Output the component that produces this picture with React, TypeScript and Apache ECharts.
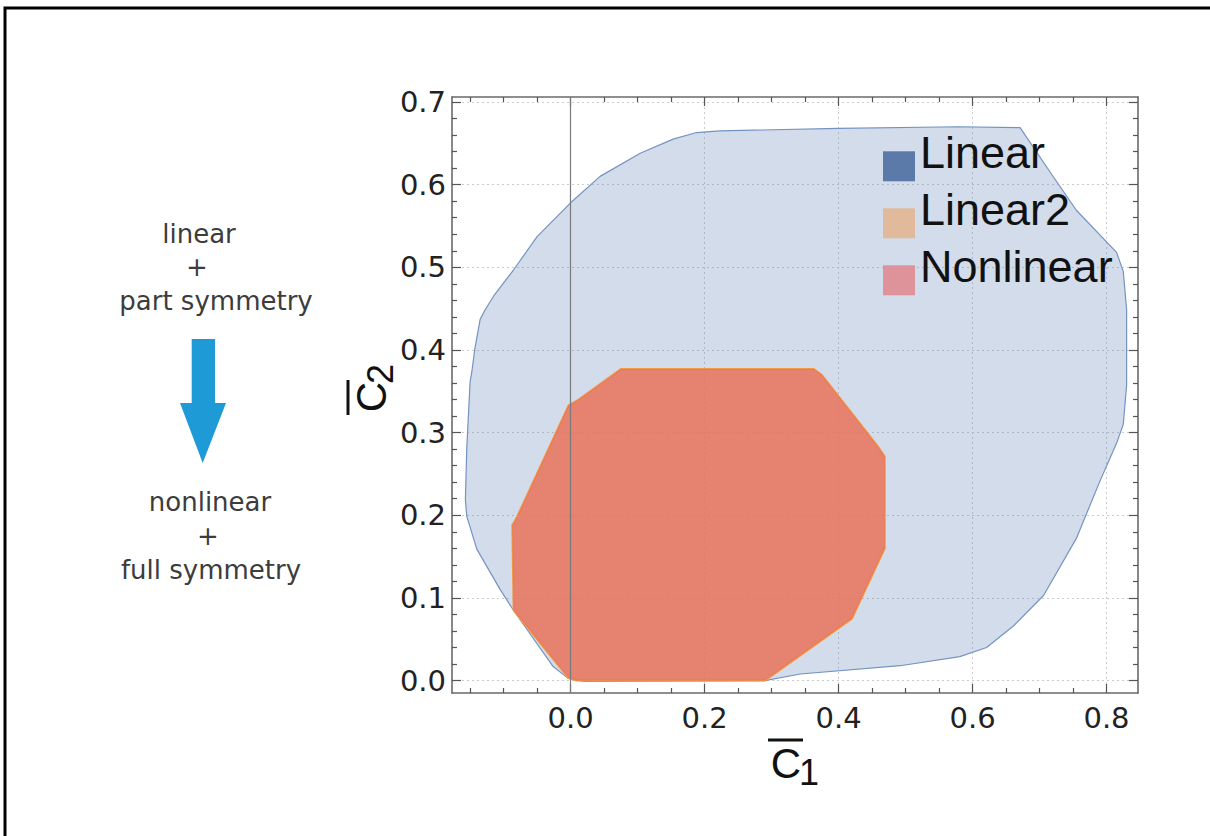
import React, { useEffect, useRef } from "react";
import * as echarts from "echarts";

// ---- data ----
const xMajorTicks = [0, 0.2, 0.4, 0.6, 0.8];
const xMinorTicks = [-0.15, -0.1, -0.05, 0.05, 0.1, 0.15, 0.25, 0.3, 0.35, 0.45, 0.5, 0.55, 0.65, 0.7, 0.75];
const yMajorTicks = [0, 0.1, 0.2, 0.3, 0.4, 0.5, 0.6, 0.7];
const yMinorTicks = [0.02, 0.04, 0.06, 0.08, 0.12, 0.14, 0.16, 0.18, 0.22, 0.24, 0.26, 0.28, 0.32, 0.34, 0.36, 0.38, 0.42, 0.44, 0.46, 0.48, 0.52, 0.54, 0.56, 0.58, 0.62, 0.64, 0.66, 0.68];

const seriesNames = ["Linear", "Linear2", "Nonlinear"];

const linearRegion: [number, number][] = [
  [0.29, 0.0], [0.02, -0.001], [-0.004, 0.003], [-0.026, 0.017], [-0.086, 0.086],
  [-0.105, 0.11], [-0.14, 0.159], [-0.155, 0.199], [-0.157, 0.219], [-0.155, 0.28],
  [-0.15, 0.361], [-0.147, 0.376], [-0.143, 0.401], [-0.135, 0.437], [-0.128, 0.448],
  [-0.115, 0.465], [-0.085, 0.497], [-0.05, 0.537], [0.0, 0.578], [0.044, 0.61],
  [0.104, 0.638], [0.153, 0.655], [0.188, 0.663], [0.223, 0.665], [0.4, 0.668],
  [0.58, 0.67], [0.671, 0.669], [0.716, 0.615], [0.755, 0.569], [0.815, 0.518],
  [0.825, 0.495], [0.83, 0.449], [0.83, 0.357], [0.825, 0.31], [0.815, 0.287],
  [0.79, 0.241], [0.755, 0.172], [0.706, 0.103], [0.661, 0.066], [0.621, 0.04],
  [0.581, 0.029], [0.492, 0.018], [0.343, 0.008],
];

const linear2Region: [number, number][] = [
  [0.075, 0.377], [0.363, 0.377], [0.375, 0.37], [0.459, 0.283], [0.469, 0.271],
  [0.469, 0.16], [0.42, 0.075], [0.29, 0.0], [0.009, 0.0], [-0.003, 0.003],
  [-0.085, 0.085], [-0.087, 0.188], [-0.08, 0.198], [-0.003, 0.333], [0.012, 0.34],
];

const nonlinearRegion: [number, number][] = [
  [0.075, 0.377], [0.363, 0.377], [0.375, 0.37], [0.459, 0.283], [0.469, 0.271],
  [0.469, 0.16], [0.42, 0.075], [0.29, 0.0], [0.009, 0.0], [-0.003, 0.003],
  [-0.085, 0.085], [-0.087, 0.188], [-0.08, 0.198], [-0.003, 0.333], [0.012, 0.34],
];

const legendColors = ["#5b7aa9", "#e1b99b", "#de939b"];

const X_MIN = -0.177;
const X_MAX = 0.847;
const Y_MIN = -0.015;
const Y_MAX = 0.706;

function polygonSeries(
  name: string,
  pts: [number, number][],
  legendColor: string,
  fill: string,
  stroke: string,
  lineWidth: number,
  z: number,
  extra: any = {}
) {
  return {
    type: "custom",
    name,
    xAxisIndex: 0,
    yAxisIndex: 0,
    data: pts,
    encode: { x: 0, y: 1 },
    itemStyle: { color: legendColor },
    z,
    silent: true,
    renderItem: (params: any, api: any) => {
      if (params.dataIndex !== 0) return null;
      const points = pts.map((p) => api.coord(p));
      return {
        type: "polygon",
        shape: { points },
        style: { fill, stroke, lineWidth, lineJoin: "round" },
      };
    },
    ...extra,
  };
}

export default function App() {
  const ref = useRef<HTMLDivElement>(null);

  useEffect(() => {
    document.body.style.margin = "0";
    const chart = echarts.init(ref.current!, null, { renderer: "svg" });

    const frameLine = { show: true, onZero: false, lineStyle: { color: "#6a6a6a", width: 1.6 } };
    const noLine = { show: false, onZero: false };
    const tickStyle = { color: "#555", width: 1.2 };
    const tickFont = { fontSize: 29, fontFamily: "DejaVu Sans", color: "#222" };
    const gridRect = { left: 452, right: 72, top: 97, bottom: 143 };
    const hidden = { show: false };
    const sideText = { fontSize: 26, fontFamily: "DejaVu Sans", fill: "#3c3c3c", align: "center", verticalAlign: "middle" };

    const option: any = {
      animation: false,
      backgroundColor: "#ffffff",
      grid: [{ ...gridRect }, { ...gridRect }],
      xAxis: [
        {
          type: "value", gridIndex: 0, position: "bottom", min: X_MIN, max: X_MAX,
          axisLine: frameLine,
          axisTick: { show: true, inside: true, length: 9, customValues: xMajorTicks, lineStyle: tickStyle },
          axisLabel: { show: true, customValues: xMajorTicks, formatter: (v: number) => v.toFixed(1), margin: 10, ...tickFont },
          splitLine: { show: true, lineStyle: { color: "#cccccc", type: [2, 3], width: 1 } },
        },
        {
          type: "value", gridIndex: 0, position: "top", min: X_MIN, max: X_MAX,
          axisLine: frameLine,
          axisTick: { show: true, inside: true, length: 9, customValues: xMajorTicks, lineStyle: tickStyle },
          axisLabel: hidden, splitLine: hidden,
        },
        {
          type: "value", gridIndex: 1, position: "bottom", min: X_MIN, max: X_MAX,
          axisLine: noLine,
          axisTick: { show: true, inside: true, length: 5, customValues: xMinorTicks, lineStyle: tickStyle },
          axisLabel: hidden, splitLine: hidden,
        },
        {
          type: "value", gridIndex: 1, position: "top", min: X_MIN, max: X_MAX,
          axisLine: noLine,
          axisTick: { show: true, inside: true, length: 5, customValues: xMinorTicks, lineStyle: tickStyle },
          axisLabel: hidden, splitLine: hidden,
        },
      ],
      yAxis: [
        {
          type: "value", gridIndex: 0, position: "left", min: Y_MIN, max: Y_MAX,
          axisLine: frameLine,
          axisTick: { show: true, inside: true, length: 9, customValues: yMajorTicks, lineStyle: tickStyle },
          axisLabel: { show: true, customValues: yMajorTicks, formatter: (v: number) => v.toFixed(1), margin: 6, ...tickFont },
          splitLine: { show: true, lineStyle: { color: "#cccccc", type: [2, 3], width: 1 } },
        },
        {
          type: "value", gridIndex: 0, position: "right", min: Y_MIN, max: Y_MAX,
          axisLine: frameLine,
          axisTick: { show: true, inside: true, length: 9, customValues: yMajorTicks, lineStyle: tickStyle },
          axisLabel: hidden, splitLine: hidden,
        },
        {
          type: "value", gridIndex: 1, position: "left", min: Y_MIN, max: Y_MAX,
          axisLine: noLine,
          axisTick: { show: true, inside: true, length: 5, customValues: yMinorTicks, lineStyle: tickStyle },
          axisLabel: hidden, splitLine: hidden,
        },
        {
          type: "value", gridIndex: 1, position: "right", min: Y_MIN, max: Y_MAX,
          axisLine: noLine,
          axisTick: { show: true, inside: true, length: 5, customValues: yMinorTicks, lineStyle: tickStyle },
          axisLabel: hidden, splitLine: hidden,
        },
      ],
      legend: {
        orient: "vertical",
        left: 878,
        top: 124.8,
        itemWidth: 32,
        itemHeight: 30,
        itemGap: -16,
        icon: "rect",
        selectedMode: false,
        formatter: (name: string) => name + "\n",
        textStyle: {
          fontSize: 45,
          fontFamily: "Liberation Sans",
          color: "#111",
          lineHeight: 28,
        },
        data: seriesNames.map((n, i) => ({ name: n, itemStyle: { color: legendColors[i] } })),
      },
      series: [
        polygonSeries(seriesNames[0], linearRegion, legendColors[0], "rgba(94,129,181,0.28)", "#7593c2", 1.2, 2),
        polygonSeries(seriesNames[1], linear2Region, legendColors[1], "rgba(230,150,80,0.6)", "#f29a48", 2, 3),
        polygonSeries(seriesNames[2], nonlinearRegion, legendColors[2], "rgba(234,99,91,0.6)", "none", 0, 4, {
          markLine: {
            silent: true,
            symbol: "none",
            label: { show: false },
            lineStyle: { color: "#7a7a7a", width: 1.2, type: "solid" },
            data: [{ xAxis: 0 }],
          },
        }),
      ],
      graphic: [
        {
          type: "rect",
          shape: { x: 5, y: 8, width: 1300, height: 900 },
          style: { fill: "none", stroke: "#000", lineWidth: 3 },
          silent: true,
        },
        { type: "text", x: 199, y: 234, style: { text: "linear", ...sideText } },
        { type: "text", x: 197, y: 267, style: { text: "+", ...sideText } },
        { type: "text", x: 216, y: 301, style: { text: "part symmetry", ...sideText } },
        {
          type: "polygon",
          shape: { points: [[191.7, 339], [215, 339], [215, 403], [226, 403], [202.7, 463], [180, 403], [191.7, 403]] },
          style: { fill: "#1e9ad6" },
        },
        { type: "text", x: 210, y: 502, style: { text: "nonlinear", ...sideText } },
        { type: "text", x: 208, y: 536, style: { text: "+", ...sideText } },
        { type: "text", x: 211, y: 570, style: { text: "full symmetry", ...sideText } },
        {
          type: "group",
          x: 786,
          y: 763,
          children: [
            { type: "text", x: 0, y: 0, style: { text: "C", fontSize: 42, fontFamily: "Liberation Sans", fill: "#111", align: "center", verticalAlign: "middle" } },
            { type: "line", shape: { x1: -18, y1: -23, x2: 17, y2: -23 }, style: { stroke: "#111", lineWidth: 3 } },
            { type: "text", x: 23, y: 9, style: { text: "1", fontSize: 36, fontFamily: "Liberation Sans", fill: "#111", align: "center", verticalAlign: "middle" } },
          ],
        },
        {
          type: "group",
          x: 371,
          y: 397,
          rotation: Math.PI / 2,
          children: [
            { type: "text", x: 0, y: 0, style: { text: "C", fontSize: 42, fontFamily: "Liberation Sans", fill: "#111", align: "center", verticalAlign: "middle" } },
            { type: "line", shape: { x1: -18, y1: -23, x2: 17, y2: -23 }, style: { stroke: "#111", lineWidth: 3 } },
            { type: "text", x: 23, y: 9, style: { text: "2", fontSize: 36, fontFamily: "Liberation Sans", fill: "#111", align: "center", verticalAlign: "middle" } },
          ],
        },
      ],
    };

    chart.setOption(option);
    return () => chart.dispose();
  }, []);

  return <div ref={ref} style={{ width: 1210, height: 836 }} />;
}
